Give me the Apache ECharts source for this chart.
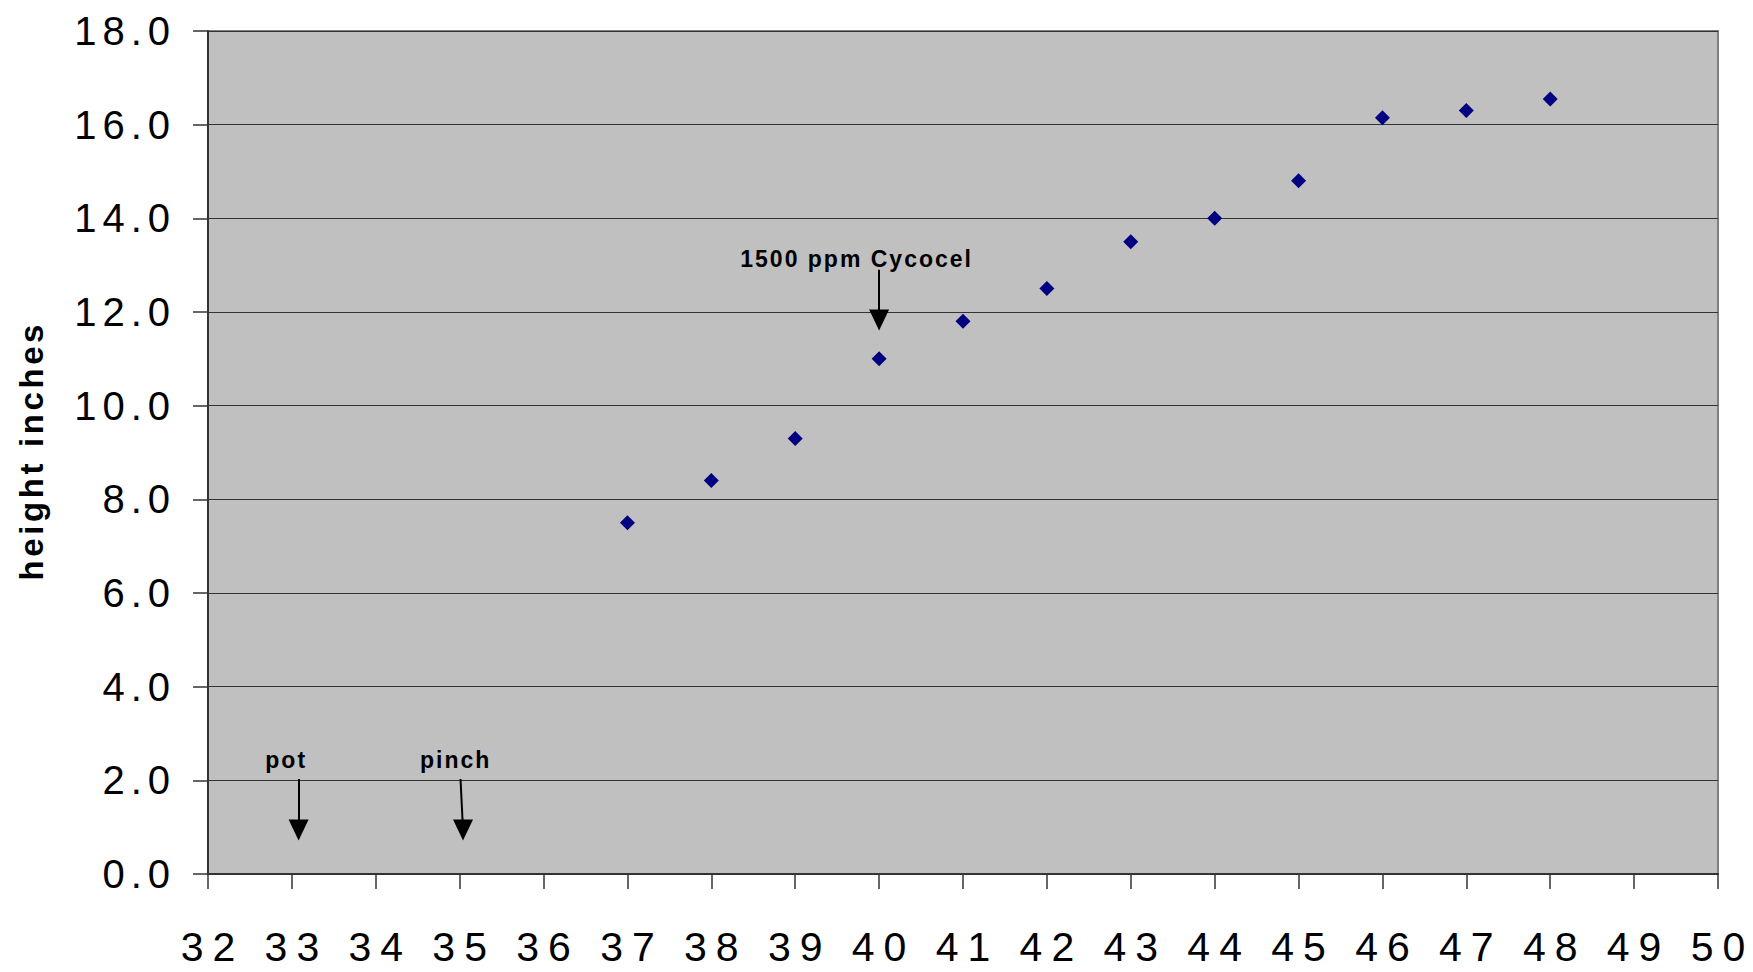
<!DOCTYPE html>
<html>
<head>
<meta charset="utf-8">
<script src="https://cdn.jsdelivr.net/npm/echarts@6/dist/echarts.min.js"></script>
<style>
  html, body { margin: 0; padding: 0; background: #fff; }
  #chart { width: 1753px; height: 972px; }
</style>
</head>
<body>
<div id="chart"></div>
<script>
// ---- data ----
const weeks = [37, 38, 39, 40, 41, 42, 43, 44, 45, 46, 47, 48];
const heights = [7.5, 8.4, 9.3, 11.0, 11.8, 12.5, 13.5, 14.0, 14.8, 16.15, 16.3, 16.55];
const yAxisTitle = 'height inches';

// annotations (data coordinates)
const noteTexts = ['pot', 'pinch', '1500 ppm Cycocel'];
const noteX = [32.92, 34.94, 39.72];
const noteY = [2.43, 2.43, 13.13];
const arrowFromX = [33.08, 35.01, 40.0];
const arrowFromY = [2.03, 2.03, 12.9];
const arrowToX = [33.08, 35.04, 40.0];
const arrowToY = [0.94, 0.94, 11.83];

const FONT = "'Liberation Sans', Arial, sans-serif";

const chart = echarts.init(document.getElementById('chart'), null, { renderer: 'svg' });

const option = {
  animation: false,
  backgroundColor: '#ffffff',
  grid: {
    left: 208, right: 35, top: 31, bottom: 98,
    show: true,
    backgroundColor: '#C0C0C0',
    borderColor: '#808080',
    borderWidth: 2
  },
  xAxis: {
    type: 'value',
    min: 32, max: 50, interval: 1,
    axisLine: { show: true, onZero: false, lineStyle: { color: '#333', width: 2 } },
    axisTick: { show: true, length: 15, lineStyle: { color: '#333', width: 1.5 } },
    splitLine: { show: false },
    axisLabel: { fontFamily: FONT, fontSize: 41, color: '#000', margin: 52 }
  },
  yAxis: {
    type: 'value',
    min: 0, max: 18, interval: 2,
    name: yAxisTitle,
    nameLocation: 'middle',
    nameGap: 160,
    nameTextStyle: { fontFamily: FONT, fontSize: 33, fontWeight: 'bold', color: '#000' },
    axisLine: { show: true, lineStyle: { color: '#333', width: 2 } },
    axisTick: { show: true, length: 15, lineStyle: { color: '#333', width: 1.5 } },
    splitLine: { show: true, lineStyle: { color: '#333', width: 1.2 } },
    axisLabel: {
      fontFamily: FONT, fontSize: 40, color: '#000', margin: 38,
      formatter: v => v.toFixed(1)
    }
  },
  series: [
    {
      type: 'scatter',
      name: 'notes',
      silent: true,
      symbolSize: 0,
      itemStyle: { opacity: 1 },
      data: noteTexts.map((t, i) => ({ name: t, value: [noteX[i], noteY[i]] })),
      label: {
        show: true,
        position: 'inside',
        formatter: p => p.name,
        fontFamily: FONT, fontSize: 23, fontWeight: 'bold', color: '#000',
        opacity: 1,
        textBorderWidth: 0
      },
      markLine: {
        silent: true,
        symbol: 'none',
        label: { show: false },
        lineStyle: { color: '#000', width: 2, type: 'solid', opacity: 1 },
        emphasis: { disabled: true },
        data: arrowFromX.map((x, i) => [
          { coord: [x, arrowFromY[i]] },
          { coord: [arrowToX[i], arrowToY[i]] }
        ])
      }
    },
    {
      type: 'scatter',
      name: 'arrowheads',
      silent: true,
      symbol: 'triangle',
      symbolRotate: 180,
      symbolSize: [20, 21],
      itemStyle: { color: '#000', opacity: 1 },
      data: arrowToX.map((x, i) => [x, arrowToY[i]]),
      z: 4
    },
    {
      type: 'scatter',
      name: 'height',
      symbol: 'diamond',
      symbolSize: 15,
      itemStyle: { color: '#000080', opacity: 1 },
      data: weeks.map((w, i) => [w, heights[i]]),
      z: 5
    }
  ]
};
chart.setOption(option);

// emulate the wide letter spacing of the original chart's text
function applySpacing() {
  document.querySelectorAll('#chart svg text').forEach(el => {
    if (el.dataset.spaced) return;
    const cs = getComputedStyle(el);
    const fs = parseFloat(cs.fontSize);
    let ls;
    if (fs >= 41) ls = 9;
    else if (fs >= 40) ls = 6;
    else if (fs >= 30) ls = 3.6;
    else ls = 2.0;
    el.style.letterSpacing = ls + 'px';
    const anchor = el.getAttribute('text-anchor') || cs.textAnchor;
    if (anchor === 'middle') el.setAttribute('dx', ls / 2);
    else if (anchor === 'end') el.setAttribute('dx', ls);
    el.dataset.spaced = '1';
  });
}
applySpacing();
chart.on('finished', applySpacing);
setTimeout(applySpacing, 50);
</script>
</body>
</html>
